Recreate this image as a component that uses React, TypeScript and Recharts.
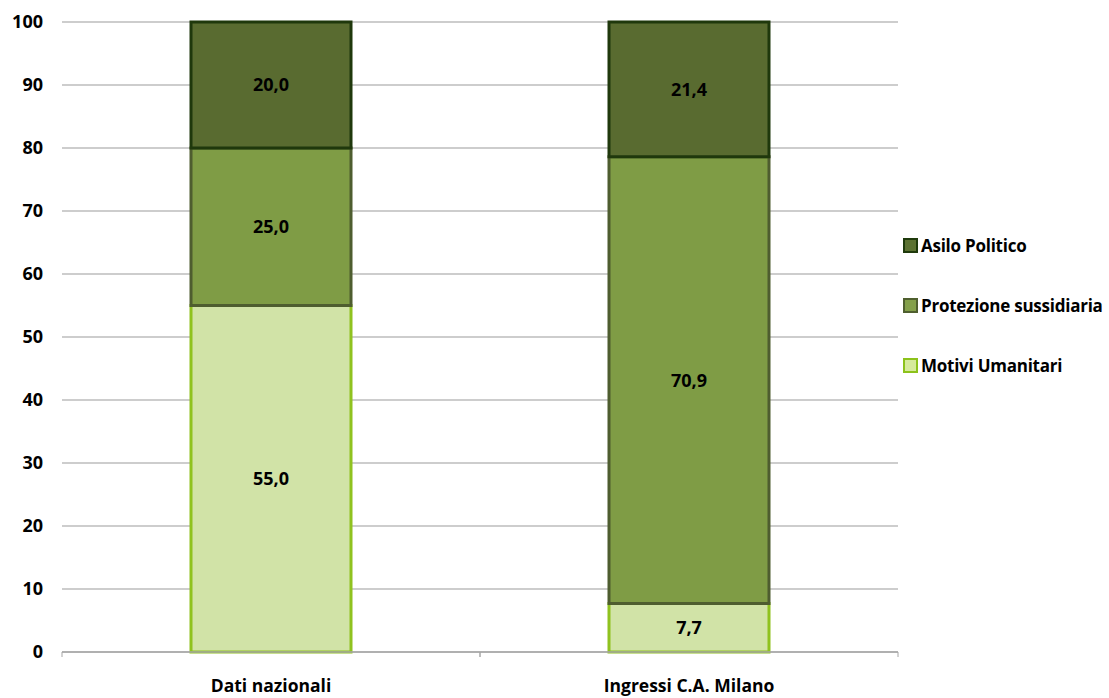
import React from 'react';
import { BarChart, Bar, XAxis, YAxis, CartesianGrid, LabelList } from 'recharts';

const categories = ['Dati nazionali', 'Ingressi C.A. Milano'];
const motiviUmanitari = [55.0, 7.7];
const protezioneSussidiaria = [25.0, 70.9];
const asiloPolitico = [20.0, 21.4];
const yTicks = [0, 10, 20, 30, 40, 50, 60, 70, 80, 90, 100];

const chartData = categories.map((name, i) => ({
  name,
  motivi: motiviUmanitari[i],
  protezione: protezioneSussidiaria[i],
  asilo: asiloPolitico[i],
}));

// legend order, top to bottom
const legendItems = [
  { key: 'asilo', label: 'Asilo Politico', fill: '#5c7232', border: '#1f3a0c' },
  { key: 'protezione', label: 'Protezione sussidiaria', fill: '#84a04a', border: '#4f5f2f' },
  { key: 'motivi', label: 'Motivi Umanitari', fill: '#d6ea9c', border: '#8cc21b' },
];

const FONT = '"Open Sans", "DejaVu Sans", sans-serif';

const fmt = (v: any) => Number(v).toFixed(1).replace('.', ',');

const CategoryTick = (props: any) => {
  const { x, y, payload } = props;
  const off = payload.offset || 0;
  return (
    <g>
      <line x1={x - off} y1={y} x2={x - off} y2={y + 5} stroke="#a6a6a6" />
      <line x1={x + off} y1={y} x2={x + off} y2={y + 5} stroke="#a6a6a6" />
      <text x={x} y={y + 40} textAnchor="middle" fontFamily={FONT} fontWeight={700} fontSize={17.5} fill="#000">
        {payload.value}
      </text>
    </g>
  );
};

const App = () => {
  return (
    <div style={{ position: 'absolute', left: 0, top: 0, width: 1109, height: 698, background: '#fff' }}>
      <BarChart
        width={1109}
        height={698}
        data={chartData}
        margin={{ top: 22, right: 211, left: 0, bottom: 0 }}
        barCategoryGap={0}
      >
        <CartesianGrid vertical={false} stroke="#bdbdbd" strokeWidth={1.5} />
        <XAxis
          dataKey="name"
          height={46}
          axisLine={{ stroke: '#a6a6a6', strokeWidth: 1.5 }}
          tickLine={false}
          tickSize={0}
          tickMargin={0}
          tick={<CategoryTick />}
          interval={0}
        />
        <YAxis
          width={62}
          domain={[0, 100]}
          ticks={yTicks}
          axisLine={false}
          tickLine={false}
          tickSize={6}
          tickMargin={13}
          tick={{ fontFamily: FONT, fontWeight: 700, fontSize: 18, fill: '#000' }}
        />
        <Bar dataKey="motivi" name="Motivi Umanitari" stackId="a" barSize={160} fill="#d1e3a7" stroke="#8fc21f" strokeWidth={3} isAnimationActive={false}>
          <LabelList dataKey="motivi" position="center" formatter={fmt} fill="#000" fontFamily={FONT} fontWeight={700} fontSize={18} />
        </Bar>
        <Bar dataKey="protezione" name="Protezione sussidiaria" stackId="a" barSize={160} fill="#7f9c45" stroke="#4e5d2f" strokeWidth={3} isAnimationActive={false}>
          <LabelList dataKey="protezione" position="center" formatter={fmt} fill="#000" fontFamily={FONT} fontWeight={700} fontSize={18} />
        </Bar>
        <Bar dataKey="asilo" name="Asilo Politico" stackId="a" barSize={160} fill="#596b30" stroke="#1f380c" strokeWidth={3} isAnimationActive={false}>
          <LabelList dataKey="asilo" position="center" formatter={fmt} fill="#000" fontFamily={FONT} fontWeight={700} fontSize={18} />
        </Bar>
      </BarChart>
      <div style={{ position: 'absolute', left: 903, top: 215, fontFamily: FONT }}>
        {legendItems.map((item) => (
          <div key={item.key} style={{ display: 'flex', alignItems: 'center', height: 60 }}>
            <span
              style={{
                display: 'inline-block',
                width: 11,
                height: 11,
                background: item.fill,
                border: `2px solid ${item.border}`,
                marginRight: 3,
              }}
            />
            <span style={{ fontWeight: 700, fontSize: 17, letterSpacing: -0.25, color: '#000', whiteSpace: 'nowrap' }}>
              {item.label}
            </span>
          </div>
        ))}
      </div>
    </div>
  );
};

export default App;
